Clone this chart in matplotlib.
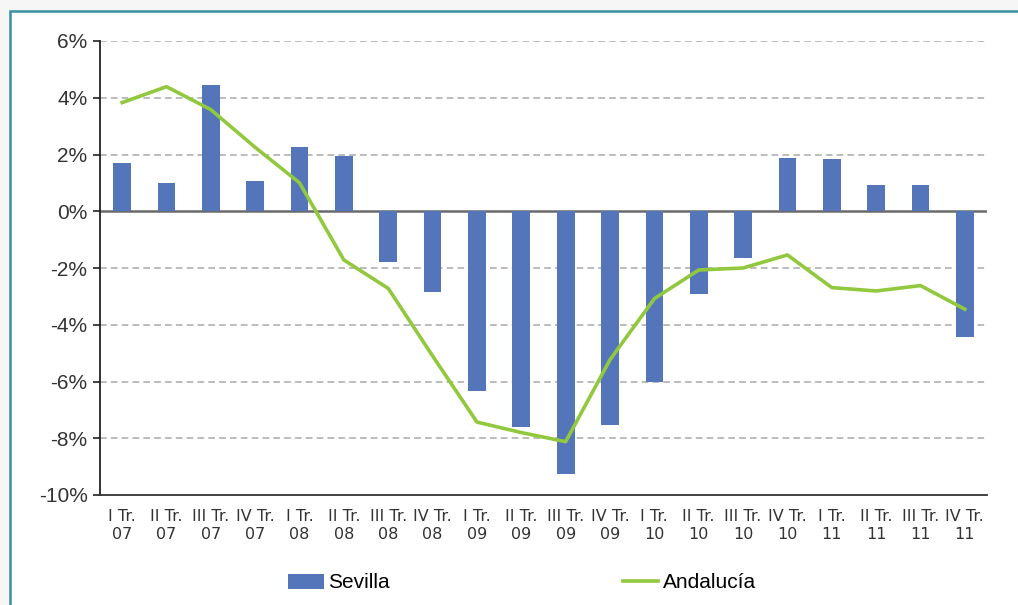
import matplotlib.pyplot as plt
import matplotlib.patches as mpatches
from matplotlib import font_manager

# quarters
quarters = ["I Tr.\n07", "II Tr.\n07", "III Tr.\n07", "IV Tr.\n07",
            "I Tr.\n08", "II Tr.\n08", "III Tr.\n08", "IV Tr.\n08",
            "I Tr.\n09", "II Tr.\n09", "III Tr.\n09", "IV Tr.\n09",
            "I Tr.\n10", "II Tr.\n10", "III Tr.\n10", "IV Tr.\n10",
            "I Tr.\n11", "II Tr.\n11", "III Tr.\n11", "IV Tr.\n11"]

# Sevilla (bars), %
sevilla = [1.69, 0.98, 4.44, 1.08, 2.28, 1.95, -1.79, -2.84, -6.35, -7.61,
           -9.27, -7.52, -6.01, -2.91, -1.64, 1.87, 1.83, 0.94, 0.94, -4.42]

# Andalucia (line), %
andalucia = [3.83, 4.39, 3.58, 2.25, 1.0, -1.72, -2.72, -5.1, -7.43, -7.8,
             -8.12, -5.23, -3.08, -2.07, -2.0, -1.54, -2.69, -2.81, -2.62, -3.45]

yticks = [-10, -8, -6, -4, -2, 0, 2, 4, 6]

names = {f.name for f in font_manager.fontManager.ttflist}
narrow = "Liberation Sans Narrow" if "Liberation Sans Narrow" in names else "DejaVu Sans"
plt.rcParams['font.family'] = ['Liberation Sans', 'DejaVu Sans']

fig = plt.figure(figsize=(10.18, 6.05), dpi=100)
fig.patch.set_facecolor('#f6f6f6')

# white box with teal border (page frame)
frame = mpatches.Rectangle((10 / 1018, -0.05), 1.1, 1 - 11 / 605 + 0.05,
                           transform=fig.transFigure, facecolor='white',
                           edgecolor='#3a8fa0', linewidth=1.8, zorder=-5)
fig.patches.append(frame)

ax = fig.add_axes([100 / 1018, 1 - 495 / 605, 887 / 1018, 454 / 605])
ax.set_facecolor('none')
ax.set_zorder(2)

x = list(range(len(quarters)))
bars = ax.bar(x, sevilla, width=0.4, color='#5575bb', zorder=2, label='Sevilla')
line, = ax.plot(x, andalucia, color='#92c83e', linewidth=2.6, zorder=3, label='Andalucía')

ax.set_xlim(-0.5, len(quarters) - 0.5)
ax.set_ylim(-10, 6)
ax.set_yticks(yticks)
ax.set_yticklabels([f"{v}%" for v in yticks], fontsize=15, color='#333333')
for v in yticks:
    if v == 0:
        ax.axhline(0, color='#6a6a6a', linewidth=1.8, zorder=1)
    elif v > -10:
        ax.axhline(v, color='#b0b0b0', linewidth=1.2, linestyle=(0, (4, 2.5)), zorder=1)

ax.set_xticks(x)
ax.set_xticklabels(quarters, fontsize=11.5, color='#333333', family=[narrow, 'DejaVu Sans'],
                   linespacing=1.3)
ax.tick_params(axis='x', length=0, pad=10)
ax.tick_params(axis='y', length=5, width=1.2, color='#222222', pad=4)

for s in ['top', 'right']:
    ax.spines[s].set_visible(False)
ax.spines['left'].set_color('#222222')
ax.spines['left'].set_linewidth(1.3)
ax.spines['bottom'].set_color('#333333')
ax.spines['bottom'].set_linewidth(1.3)

fig.legend([bars, line], ['Sevilla', 'Andalucía'], loc='center',
           bbox_to_anchor=(522 / 1018, 1 - 583 / 605), ncol=2,
           frameon=False, fontsize=15, handlelength=1.7, handletextpad=0.2,
           columnspacing=11.2)

fig.savefig('out.png', dpi=100, facecolor=fig.get_facecolor())
